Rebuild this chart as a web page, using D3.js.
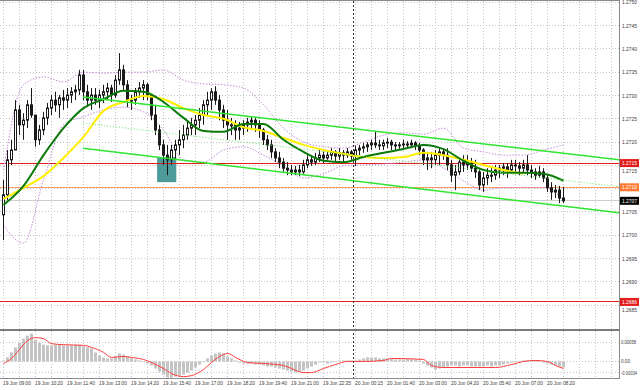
<!DOCTYPE html>
<html><head><meta charset="utf-8">
<script src="https://cdn.jsdelivr.net/npm/d3@7"></script>
<style>html,body{margin:0;padding:0;background:#fff;}svg{display:block;font-family:"Liberation Sans",Arial,sans-serif;}</style>
</head><body><svg id="c" width="640" height="390"></svg>
<script>
// ---- DATA ----
const timeLabels = ["19 Jun 09:00","19 Jun 10:20","19 Jun 11:40","19 Jun 13:00","19 Jun 14:20","19 Jun 15:40","19 Jun 17:00","19 Jun 18:20","19 Jun 19:40","19 Jun 21:00","19 Jun 22:35","20 Jun 00:15","20 Jun 01:40","20 Jun 03:00","20 Jun 04:20","20 Jun 05:40","20 Jun 07:00","20 Jun 08:20"];
const priceTicks = [1.2750,1.2745,1.2740,1.2735,1.2730,1.2725,1.2720,1.2715,1.2710,1.2705,1.2700,1.2695,1.2690,1.2685];
const macdTicks = [0.00058,0,-0.00034];
const macdTickLabels = ["0.00058","0.00","-0.00034"];

const open = [1.27044,1.27087,1.27162,1.27183,1.27269,1.27237,1.27247,1.27280,1.27258,1.27205,
1.27226,1.27252,1.27273,1.27290,1.27280,1.27295,1.27290,1.27301,1.27308,1.27312,
1.27344,1.27308,1.27290,1.27301,1.27290,1.27301,1.27308,1.27316,1.27301,1.27333,
1.27355,1.27323,1.27290,1.27290,1.27308,1.27316,1.27323,1.27301,1.27258,1.27226,
1.27194,1.27172,1.27162,1.27183,1.27194,1.27205,1.27215,1.27230,1.27237,1.27247,
1.27258,1.27280,1.27290,1.27308,1.27290,1.27269,1.27247,1.27237,1.27237,1.27226,
1.27230,1.27237,1.27243,1.27247,1.27237,1.27226,1.27205,1.27194,1.27179,1.27166,
1.27157,1.27144,1.27140,1.27136,1.27140,1.27136,1.27151,1.27162,1.27157,1.27166,
1.27172,1.27166,1.27172,1.27179,1.27170,1.27177,1.27172,1.27179,1.27170,1.27183,
1.27187,1.27190,1.27194,1.27198,1.27194,1.27192,1.27198,1.27200,1.27194,1.27192,
1.27194,1.27196,1.27194,1.27198,1.27192,1.27183,1.27162,1.27166,1.27162,1.27172,
1.27179,1.27172,1.27151,1.27129,1.27136,1.27157,1.27151,1.27157,1.27144,1.27136,
1.27108,1.27123,1.27129,1.27129,1.27140,1.27144,1.27147,1.27140,1.27151,1.27149,
1.27144,1.27151,1.27140,1.27136,1.27129,1.27136,1.27123,1.27102,1.27093,1.27097,
1.27080];
const high = [1.27119,1.27183,1.27205,1.27290,1.27280,1.27262,1.27290,1.27316,1.27258,1.27237,
1.27265,1.27284,1.27301,1.27308,1.27301,1.27312,1.27316,1.27318,1.27323,1.27355,
1.27355,1.27323,1.27316,1.27316,1.27312,1.27323,1.27327,1.27323,1.27344,1.27391,
1.27366,1.27333,1.27301,1.27316,1.27329,1.27333,1.27327,1.27301,1.27280,1.27237,
1.27205,1.27194,1.27194,1.27205,1.27226,1.27237,1.27247,1.27252,1.27258,1.27273,
1.27290,1.27308,1.27316,1.27320,1.27301,1.27280,1.27269,1.27252,1.27247,1.27243,
1.27247,1.27252,1.27254,1.27252,1.27247,1.27230,1.27215,1.27205,1.27187,1.27179,
1.27166,1.27157,1.27151,1.27149,1.27151,1.27162,1.27172,1.27172,1.27177,1.27183,
1.27179,1.27183,1.27187,1.27183,1.27187,1.27183,1.27187,1.27183,1.27192,1.27194,
1.27198,1.27200,1.27205,1.27222,1.27205,1.27205,1.27209,1.27205,1.27200,1.27200,
1.27205,1.27202,1.27205,1.27202,1.27198,1.27187,1.27179,1.27179,1.27183,1.27187,
1.27187,1.27187,1.27162,1.27151,1.27166,1.27172,1.27172,1.27166,1.27162,1.27144,
1.27136,1.27144,1.27144,1.27151,1.27151,1.27155,1.27155,1.27162,1.27162,1.27157,
1.27162,1.27172,1.27151,1.27144,1.27149,1.27144,1.27129,1.27114,1.27108,1.27106,
1.27104];
const low = [1.26990,1.27076,1.27151,1.27183,1.27215,1.27205,1.27230,1.27252,1.27190,1.27194,
1.27215,1.27237,1.27258,1.27265,1.27252,1.27269,1.27273,1.27284,1.27290,1.27301,
1.27290,1.27275,1.27269,1.27280,1.27273,1.27284,1.27290,1.27286,1.27295,1.27323,
1.27312,1.27275,1.27269,1.27280,1.27295,1.27290,1.27290,1.27247,1.27215,1.27183,
1.27151,1.27129,1.27151,1.27162,1.27172,1.27187,1.27205,1.27215,1.27215,1.27230,
1.27237,1.27258,1.27269,1.27280,1.27247,1.27230,1.27205,1.27215,1.27205,1.27205,
1.27215,1.27222,1.27226,1.27222,1.27209,1.27194,1.27183,1.27166,1.27157,1.27144,
1.27136,1.27129,1.27129,1.27129,1.27127,1.27132,1.27144,1.27149,1.27151,1.27157,
1.27155,1.27162,1.27162,1.27157,1.27162,1.27157,1.27166,1.27162,1.27149,1.27172,
1.27177,1.27179,1.27183,1.27187,1.27183,1.27183,1.27187,1.27183,1.27183,1.27183,
1.27187,1.27187,1.27187,1.27183,1.27172,1.27151,1.27140,1.27144,1.27151,1.27151,
1.27162,1.27140,1.27114,1.27097,1.27129,1.27136,1.27140,1.27136,1.27123,1.27097,
1.27093,1.27108,1.27114,1.27119,1.27123,1.27129,1.27123,1.27136,1.27136,1.27129,
1.27136,1.27129,1.27123,1.27119,1.27123,1.27114,1.27093,1.27076,1.27080,1.27069,
1.27069];
const close = [1.27087,1.27162,1.27183,1.27269,1.27237,1.27247,1.27280,1.27258,1.27205,1.27226,
1.27252,1.27273,1.27290,1.27280,1.27295,1.27290,1.27301,1.27308,1.27312,1.27344,
1.27308,1.27290,1.27301,1.27290,1.27301,1.27308,1.27316,1.27301,1.27333,1.27355,
1.27323,1.27290,1.27290,1.27308,1.27316,1.27323,1.27301,1.27258,1.27226,1.27194,
1.27172,1.27162,1.27183,1.27194,1.27205,1.27215,1.27230,1.27237,1.27247,1.27258,
1.27280,1.27290,1.27308,1.27290,1.27269,1.27247,1.27237,1.27237,1.27226,1.27230,
1.27237,1.27243,1.27247,1.27237,1.27226,1.27205,1.27194,1.27179,1.27166,1.27157,
1.27144,1.27140,1.27136,1.27140,1.27136,1.27151,1.27162,1.27157,1.27166,1.27172,
1.27166,1.27172,1.27179,1.27170,1.27177,1.27172,1.27179,1.27170,1.27183,1.27187,
1.27190,1.27194,1.27198,1.27194,1.27192,1.27198,1.27200,1.27194,1.27192,1.27194,
1.27196,1.27194,1.27198,1.27192,1.27183,1.27162,1.27166,1.27162,1.27172,1.27179,
1.27172,1.27151,1.27129,1.27136,1.27157,1.27151,1.27157,1.27144,1.27136,1.27108,
1.27123,1.27129,1.27129,1.27140,1.27144,1.27147,1.27140,1.27151,1.27149,1.27144,
1.27151,1.27140,1.27136,1.27129,1.27136,1.27123,1.27102,1.27093,1.27097,1.27080,
1.27074];

// indicator samples (bar index -> value)
const maIndex = [0,5,10,15,20,25,30,35,40,45,50,55,60,65,70,75,80,85,90,95,100,105,110,115,120,125,130,135,140];
const maGreen = [1.27065,1.27106,1.27172,1.27230,1.27273,1.27292,1.27310,1.27308,1.27286,1.27252,1.27224,1.27222,1.27239,1.27239,1.27205,1.27179,1.27160,1.27157,1.27168,1.27177,1.27185,1.27194,1.27185,1.27160,1.27140,1.27134,1.27134,1.27132,1.27117];
const maYellow = [1.27078,1.27102,1.27127,1.27166,1.27211,1.27267,1.27286,1.27299,1.27292,1.27273,1.27258,1.27250,1.27232,1.27224,1.27209,1.27194,1.27183,1.27175,1.27168,1.27166,1.27168,1.27177,1.27172,1.27162,1.27151,1.27140,1.27132];
const bbUpper = [1.27140,1.27323,1.27340,1.27329,1.27350,1.27348,1.27350,1.27350,1.27355,1.27333,1.27325,1.27323,1.27316,1.27280,1.27230,1.27200,1.27190,1.27187,1.27200,1.27215,1.27220,1.27217,1.27230,1.27187,1.27179,1.27172,1.27172,1.27183,1.27194];
const bbLower = [1.27022,1.26983,1.27119,1.27237,1.27254,1.27269,1.27275,1.27265,1.27226,1.27162,1.27157,1.27183,1.27190,1.27172,1.27149,1.27123,1.27132,1.27149,1.27151,1.27153,1.27157,1.27162,1.27144,1.27117,1.27097,1.27102,1.27102,1.27102,1.27076];

const macdHist = [
0.00003,0.00012,0.00027,0.00042,0.00056,0.00068,0.00077,0.00083,0.00065,0.00056,
0.00050,0.00048,0.00048,0.00050,0.00050,0.00048,0.00048,0.00048,0.00050,0.00050,
0.00045,0.00042,0.00039,0.00027,0.00018,0.00012,0.00009,0.00009,0.00015,0.00024,
0.00021,0.00015,0.00009,0.00006,0.00003,0,-0.00006,-0.00012,-0.00021,-0.00030,
-0.00039,-0.00048,-0.00048,-0.00045,-0.00042,-0.00039,-0.00033,-0.00027,-0.00018,-0.00009,
0,0.00009,0.00018,0.00024,0.00027,0.00024,0.00015,0.00009,0.00003,-0.00003,
-0.00006,-0.00006,-0.00006,-0.00009,-0.00009,-0.00012,-0.00015,-0.00015,-0.00018,-0.00021,
-0.00024,-0.00027,-0.00030,-0.00033,-0.00030,-0.00027,-0.00021,-0.00015,-0.00009,-0.00003,
-0.00003,-0.00006,-0.00003,0,0.00003,0.00003,0.00003,0.00003,0.00003,0.00006,
0.00009,0.00012,0.00012,0.00012,0.00009,0.00009,0.00009,0.00009,0.00006,0.00006,
0.00006,0.00009,0.00006,0.00006,0.00003,-0.00006,-0.00012,-0.00018,-0.00024,-0.00021,
-0.00018,-0.00015,-0.00012,-0.00012,-0.00015,-0.00012,-0.00012,-0.00015,-0.00015,-0.00015,
-0.00015,-0.00012,-0.00015,-0.00012,-0.00012,-0.00009,-0.00006,-0.00003,0,0,
0.00003,0.00003,0.00003,0.00003,0,-0.00003,-0.00006,-0.00009,-0.00012,-0.00015,
-0.00018];
const sigIdx = [0,2,4,6,8,10,12,15,20,22,25,27,30,32,35,37,40,42,45,47,50,52,55,56,58,61,65,70,72,75,77,80,83,86,90,95,97,105,107,110,120,123,127,130,133,136,138,140];
const sigVal = [-0.00006,0.00009,0.00036,0.00062,0.00071,0.00068,0.00053,0.00050,0.00048,0.00042,0.00027,0.00012,0.00015,0.00012,0.00006,-0.00003,-0.00021,-0.00036,-0.00045,-0.00042,-0.00024,-0.00003,0.00021,0.00024,0.00012,-0.00003,-0.00006,-0.00012,-0.00021,-0.00033,-0.00033,-0.00021,-0.00009,0,0,0.00003,0.00009,0.00006,-0.00012,-0.00018,-0.00018,-0.00018,-0.00009,0,0.00003,0,-0.00012,-0.00021];

// drawn objects
const channelIdx = [19.9, 154.1];
const channelUpper = [1.27297, 1.27162];
const channelMid = [1.27241, 1.27104];
const channelLower = [1.27187, 1.27048];
const zone = {from: 38.4, to: 43.2, top: 1.27168, bottom: 1.27114};
const levels = [
  {price: 1.27155, label: "1.2715", color: "#e31c1c", bg: "#e31c1c"},
  {price: 1.27103, label: "1.2710", color: "#ff9966", bg: "#ff7a33"},
  {price: 1.27074, label: "1.2707", color: "#cfcfcf", bg: "#000000"},
  {price: 1.26857, label: "1.2686", color: "#e31c1c", bg: "#e31c1c"}
];
const separatorIdx = 87.4;

// ---- DRAW ----
const svg = d3.select('#c');
const x = d3.scaleLinear().domain([0, 140]).range([3.5, 563.5]);
const y = d3.scaleLinear().domain([1.2685, 1.2750]).range([305.2, 2.3]);
const ym = d3.scaleLinear().domain([-0.00034, 0.00058]).range([372.9, 342]);
const R = 619;

const defs = svg.append('defs');
defs.append('clipPath').attr('id','cm').append('rect').attr('x',0).attr('y',1).attr('width',R).attr('height',328);
defs.append('clipPath').attr('id','ci').append('rect').attr('x',0).attr('y',331).attr('width',R).attr('height',47);

svg.append('rect').attr('width',640).attr('height',390).attr('fill','#fff');

// grid
const grid = svg.append('g').attr('stroke','#c4c4c4').attr('stroke-width',1).attr('stroke-dasharray','1,2');
d3.range(0, 153, 4).forEach(i => {
  const gx = Math.round(x(i)-0.5)+0.5;
  grid.append('line').attr('x1',gx).attr('x2',gx).attr('y1',1).attr('y2',329);
  grid.append('line').attr('x1',gx).attr('x2',gx).attr('y1',331).attr('y2',378);
});
priceTicks.forEach(t => {
  const gy = Math.round(y(t)-0.5)+0.5;
  grid.append('line').attr('x1',0).attr('x2',R).attr('y1',gy).attr('y2',gy);
});
macdTicks.forEach(t => {
  const gy = Math.round(ym(t)-0.5)+0.5;
  grid.append('line').attr('x1',0).attr('x2',R).attr('y1',gy).attr('y2',gy);
});

const main = svg.append('g').attr('clip-path','url(#cm)');

// zone box
main.append('rect').attr('x',x(zone.from)).attr('width',x(zone.to)-x(zone.from))
  .attr('y',y(zone.top)).attr('height',y(zone.bottom)-y(zone.top)).attr('fill','#4e9b9c');

// horizontal levels
levels.forEach(l => {
  const ly = Math.round(y(l.price)-0.5)+0.5;
  main.append('line').attr('x1',0).attr('x2',R).attr('y1',ly).attr('y2',ly).attr('stroke',l.color).attr('stroke-width',1);
});

// bollinger
const lineIdx = d3.line().x(d=>x(d[0])).y(d=>y(d[1])).curve(d3.curveMonotoneX);
[bbUpper, bbLower].forEach(arr => {
  main.append('path').attr('d', lineIdx(arr.map((v,k)=>[maIndex[k], v])))
    .attr('fill','none').attr('stroke','#c58ad8').attr('stroke-width',1).attr('stroke-dasharray','1.5,1.5');
});

// candles
const cg = main.append('g');
close.forEach((c,i) => {
  const cx = x(i);
  cg.append('line').attr('x1',cx).attr('x2',cx).attr('y1',y(high[i])).attr('y2',y(low[i])).attr('stroke','#1a1a1a').attr('stroke-width',1);
  const o = open[i];
  const top = y(Math.max(o,c)), bot = y(Math.min(o,c));
  const h = Math.max(1, bot-top);
  if (c >= o) {
    cg.append('rect').attr('x',cx-1).attr('width',2).attr('y',top).attr('height',h)
      .attr('fill','#fff').attr('stroke','#1a1a1a').attr('stroke-width',1);
  } else {
    cg.append('rect').attr('x',cx-1.5).attr('width',3).attr('y',top-0.5).attr('height',h+1).attr('fill','#1a1a1a');
  }
});

// moving averages
main.append('path').attr('d', lineIdx(maYellow.map((v,k)=>[maIndex[k], v])))
  .attr('fill','none').attr('stroke','#ffee00').attr('stroke-width',2);
main.append('path').attr('d', lineIdx(maGreen.map((v,k)=>[maIndex[k], v])))
  .attr('fill','none').attr('stroke','#0b7a0b').attr('stroke-width',2);

// channel
const straight = d3.line().x(d=>x(d[0])).y(d=>y(d[1]));
main.append('path').attr('d', straight(channelIdx.map((v,k)=>[v, channelMid[k]])))
  .attr('stroke','#5fe85f').attr('stroke-width',1).attr('stroke-dasharray','1,2').attr('fill','none');
[channelUpper, channelLower].forEach(arr => {
  main.append('path').attr('d', straight(channelIdx.map((v,k)=>[v, arr[k]])))
    .attr('stroke','#2ee62e').attr('stroke-width',1.5).attr('fill','none');
});

// indicator panel
const ind = svg.append('g').attr('clip-path','url(#ci)');
const z0 = ym(0);
macdHist.forEach((v,i) => {
  const yy = ym(v);
  ind.append('rect').attr('x',x(i)-1.5).attr('width',3).attr('y',Math.min(yy,z0)).attr('height',Math.max(0.5,Math.abs(yy-z0)))
    .attr('fill','#c4c4c4');
});
ind.append('path').attr('d', d3.line().x(d=>x(d[0])).y(d=>ym(d[1])).curve(d3.curveMonotoneX)(sigIdx.map((v,k)=>[v, sigVal[k]])))
  .attr('fill','none').attr('stroke','#ff3b3b').attr('stroke-width',1);

// separator dashed vertical
const sx = Math.round(x(separatorIdx)-0.5)+0.5;
svg.append('line').attr('x1',sx).attr('x2',sx).attr('y1',1).attr('y2',378).attr('stroke','#333').attr('stroke-width',1).attr('stroke-dasharray','2,2');

// frame
svg.append('line').attr('x1',0).attr('x2',R).attr('y1',0.5).attr('y2',0.5).attr('stroke','#8a8a8a');
svg.append('line').attr('x1',0).attr('x2',R).attr('y1',330).attr('y2',330).attr('stroke','#7a7a7a').attr('stroke-width',2);
svg.append('line').attr('x1',0).attr('x2',R+1).attr('y1',378.5).attr('y2',378.5).attr('stroke','#8a8a8a');
svg.append('line').attr('x1',R+0.5).attr('x2',R+0.5).attr('y1',0).attr('y2',379).attr('stroke','#8a8a8a');

// price axis labels (grid labels hidden behind a level tag are skipped; ones partly under a tag are nudged clear)
const axg = svg.append('g').attr('font-size','5.6px').attr('fill','#3a3a3a');
priceTicks.forEach(t => {
  let ty = y(t);
  let hidden = false;
  levels.forEach(l => {
    const d = ty - y(l.price);
    if (Math.abs(d) < 2) hidden = true;
    else if (Math.abs(d) < 8) ty = y(l.price) + (d > 0 ? 8 : -8);
  });
  if (hidden) return;
  axg.append('text').attr('x',622).attr('y',ty+2).attr('textLength',15).attr('lengthAdjust','spacingAndGlyphs').text(d3.format('.4f')(t));
});
const macdLen = [15, 9, 16];
macdTicks.forEach((t,k) => {
  axg.append('text').attr('x',621 + macdLen[k]).attr('text-anchor','end').attr('y',ym(t)+2)
    .attr('font-size', k === 2 ? '5px' : '5.6px')
    .attr('textLength',macdLen[k]).attr('lengthAdjust','spacingAndGlyphs').text(macdTickLabels[k]);
});
levels.forEach(l => {
  const ly = y(l.price);
  svg.append('rect').attr('x',620).attr('y',ly-4).attr('width',19).attr('height',8).attr('fill',l.bg);
  svg.append('text').attr('x',622).attr('y',ly+2).attr('font-size','5.6px').attr('fill','#fff')
    .attr('textLength',15).attr('lengthAdjust','spacingAndGlyphs').text(l.label);
});

// time labels
const tg = svg.append('g').attr('font-size','5.4px').attr('fill','#3a3a3a');
timeLabels.forEach((s,k) => {
  const tx = x(k*8);
  tg.append('text').attr('x',tx-0.5).attr('y',385).attr('textLength',28).attr('lengthAdjust','spacingAndGlyphs').text(s);
});
</script>
</body></html>
